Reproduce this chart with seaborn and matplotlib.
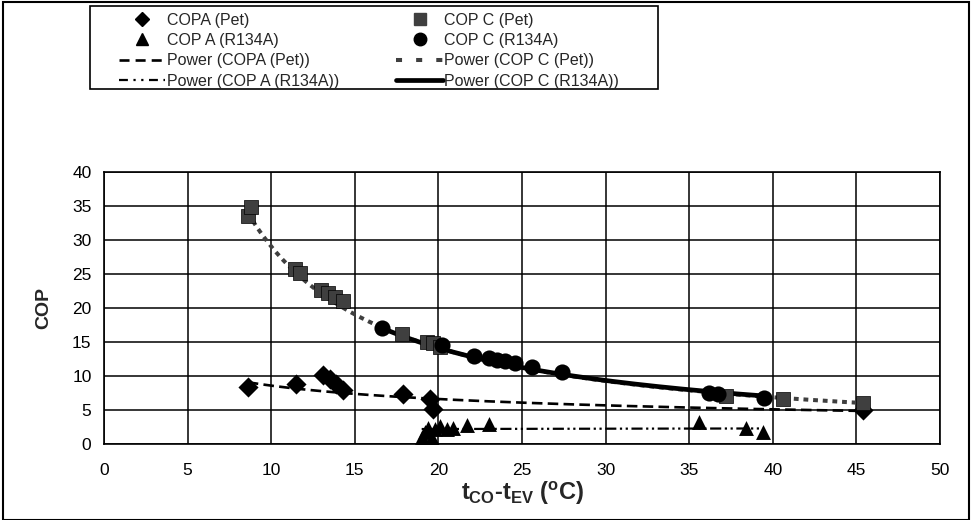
import numpy as np
import pandas as pd
import matplotlib
matplotlib.use("Agg")
import matplotlib.pyplot as plt
import seaborn as sns
from matplotlib.lines import Line2D
from matplotlib.patches import Rectangle

# ---------------- data ----------------
copa_pet_x = [8.6, 11.5, 13.1, 13.5, 13.9, 14.3, 17.9, 19.5, 19.7, 45.4]
copa_pet_y = [8.4, 8.8, 10.2, 9.6, 8.8, 7.9, 7.3, 6.6, 5.2, 5.0]

copc_pet_x = [8.6, 8.8, 11.4, 11.7, 13.0, 13.4, 13.8, 14.3, 17.8, 19.3, 19.7, 20.1, 37.2, 40.6, 45.4]
copc_pet_y = [33.6, 34.8, 25.8, 25.2, 22.6, 22.2, 21.6, 21.0, 16.2, 15.0, 14.8, 14.3, 7.0, 6.6, 6.0]

copa_r_x = [19.0, 19.1, 19.2, 19.4, 19.6, 19.8, 20.1, 20.5, 20.9, 21.7, 23.0, 35.6, 38.4, 39.4]
copa_r_y = [1.0, 0.8, 1.8, 2.4, 0.9, 2.2, 2.6, 2.2, 2.4, 2.8, 2.9, 3.3, 2.3, 1.8]

copc_r_x = [16.6, 20.2, 22.1, 23.0, 23.5, 24.0, 24.6, 25.6, 27.4, 36.2, 36.7, 39.5]
copc_r_y = [17.1, 14.6, 13.0, 12.6, 12.4, 12.2, 11.9, 11.3, 10.6, 7.5, 7.4, 6.8]

# power trendlines y = a * x**b, coefficients
trend_a = [20.4, 318.6, 1.9, 300.0]
trend_b = [-0.376, -1.04, 0.05, -1.02]

series_labels = ["COPA (Pet)", "COP C (Pet)", "COP A (R134A)", "COP C (R134A)"]
trend_labels = ["Power (COPA (Pet))", "Power (COP C (Pet))",
                "Power (COP A (R134A))", "Power (COP C (R134A))"]
x_ticks = [0, 5, 10, 15, 20, 25, 30, 35, 40, 45, 50]
y_ticks = [0, 5, 10, 15, 20, 25, 30, 35, 40]

# ---------------- style ----------------
sns.set_theme(style="white")
plt.rcParams["font.family"] = ["Liberation Sans", "DejaVu Sans"]
plt.rcParams["mathtext.fontset"] = "custom"
plt.rcParams["mathtext.rm"] = "Liberation Sans:bold"
plt.rcParams["mathtext.it"] = "Liberation Sans:bold"
plt.rcParams["mathtext.bf"] = "Liberation Sans:bold"

W, H = 973, 520
fig = plt.figure(figsize=(W / 100, H / 100), dpi=100)
fig.patch.set_facecolor("white")
L, R, T, B = 104, 940, 172, 444
ax = fig.add_axes([L / W, 1 - B / H, (R - L) / W, (B - T) / H])

GRAY = "#3f3f3f"

styles = [
    dict(color="black", lw=1.9, dashes=(4.0, 2.0)),
    dict(color=GRAY, lw=2.9, dashes=(1.2, 1.2)),
    dict(color="black", lw=1.6, dashes=(5, 1.6, 1, 1.6, 1, 1.6)),
    dict(color="black", lw=3.4, dashes=None),
]
datasets = [(copa_pet_x, copa_pet_y), (copc_pet_x, copc_pet_y),
            (copa_r_x, copa_r_y), (copc_r_x, copc_r_y)]
for (xd, yd), a, b, st in zip(datasets, trend_a, trend_b, styles):
    xs = np.linspace(min(xd), max(xd), 300)
    ys = a * xs ** b
    sns.lineplot(x=xs, y=ys, ax=ax, color=st["color"], lw=st["lw"],
                 sort=False, estimator=None, zorder=3)
    ln = ax.lines[-1]
    if st["dashes"] is not None:
        ln.set_dashes(st["dashes"])
    ln.set_dash_capstyle("butt")

# markers
sns.scatterplot(x=copa_pet_x, y=copa_pet_y, ax=ax, marker="D", s=105,
                color="black", edgecolor="black", linewidth=0, zorder=4)
sns.scatterplot(x=copc_pet_x, y=copc_pet_y, ax=ax, marker="s", s=100,
                color=GRAY, edgecolor="black", linewidth=0.5, zorder=4)
sns.scatterplot(x=copa_r_x, y=copa_r_y, ax=ax, marker="^", s=115,
                color="black", edgecolor="black", linewidth=0, zorder=4)
sns.scatterplot(x=copc_r_x, y=copc_r_y, ax=ax, marker="o", s=135,
                color="black", edgecolor="black", linewidth=0, zorder=4)

ax.set_xlim(0, 50)
ax.set_ylim(0, 40)
ax.set_xticks(x_ticks)
ax.set_yticks(y_ticks)
ax.grid(True, color="black", lw=1.1)
ax.set_axisbelow(True)
for sp in ax.spines.values():
    sp.set_color("black")
    sp.set_linewidth(1.2)
ax.tick_params(direction="inout", length=8, width=1.1, colors="black",
               labelsize=12.5, pad=5)
ax.tick_params(axis="x", pad=10)

ax.set_ylabel("COP", fontsize=14, fontweight="bold", labelpad=14)
ax.set_xlabel(r"$t_{CO}$-$t_{EV}$ ($^{o}$C)", fontsize=17, fontweight="bold",
              labelpad=1)

# legend
handles = [
    Line2D([], [], ls="none", marker="D", ms=7.5, color="black"),
    Line2D([], [], ls="none", marker="^", ms=9, color="black"),
    Line2D([], [], color="black", lw=1.9, dashes=(3.8, 2.3)),
    Line2D([], [], color="black", lw=1.6, dashes=(4, 2.5, 1, 2.5, 1, 2.5)),
    Line2D([], [], ls="none", marker="s", ms=8, color=GRAY),
    Line2D([], [], ls="none", marker="o", ms=9, color="black"),
    Line2D([], [], color=GRAY, lw=2.9, dashes=(1.5, 3.5)),
    Line2D([], [], color="black", lw=3.4),
]
labels = [series_labels[0], series_labels[2], trend_labels[0], trend_labels[2],
          series_labels[1], series_labels[3], trend_labels[1], trend_labels[3]]
leg = fig.legend(handles, labels, loc="upper left",
                 bbox_to_anchor=(106 / W, 1.0), ncol=2,
                 frameon=False, fontsize=11.5, handlelength=2.9,
                 handletextpad=0.1, columnspacing=3.6, labelspacing=0.33,
                 borderpad=0.3)
# legend frame
fig.add_artist(Rectangle((90 / W, 1 - 89 / H), (658 - 90) / W, (89 - 6) / H,
                         transform=fig.transFigure, fill=False,
                         edgecolor="black", lw=1.2))

# outer chart border
fig.add_artist(Rectangle((3 / W, 0.0), 966 / W, 1 - 2 / H,
                         transform=fig.transFigure, fill=False,
                         edgecolor="black", lw=1.5))

fig.savefig("out.png", dpi=100, facecolor="white")
